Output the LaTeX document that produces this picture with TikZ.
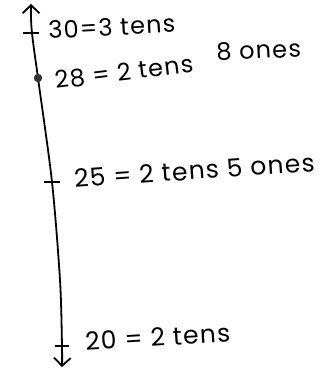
\documentclass[tikz,border=0pt]{standalone}
\usepackage{fontspec}
\setmainfont{Poppins}[LetterSpace=5]
\usetikzlibrary{arrows.meta}

\begin{document}
\begin{tikzpicture}[x=1pt,y=-1pt,line width=1.8pt,
  lbl/.style={anchor=base west,inner sep=0pt,font=\fontsize{24}{28}\selectfont},
  tickmark/.style={line width=1.5pt},
  barb/.style={{Straight Barb[length=8pt,width=17pt]}-{Straight Barb[length=8pt,width=17pt]}}]
  \useasboundingbox (0,0) rectangle (320,369);
  \coordinate (top) at (31,4);
  \coordinate (t30) at (32,33);
  \coordinate (d28) at (38,78);
  \coordinate (t25) at (52,182);
  \coordinate (mid) at (60,280);
  \coordinate (t20) at (62,346);
  \coordinate (bot) at (62,367);
  \draw[barb] plot[smooth] coordinates {(top) (t30) (d28) (t25) (mid) (t20) (bot)};
  \draw[tickmark] (t30) ++(-9,0) -- ++(16,0);
  \draw[tickmark] (t25) ++(-8,0) -- ++(16,0);
  \draw[tickmark] (t20) ++(-7,0) -- ++(14,0);
  \fill[black!80] (d28) circle (4.2);
  \node[lbl,rotate=3] (n30) at (48,39) {30=3 tens};
  \node[lbl,rotate=7] (n28) at (55,89) {28 = 2 tens};
  \node[lbl,rotate=3] (ones8) at (216,61) {8 ones};
  \node[lbl,rotate=4,font=\fontsize{25}{29}\selectfont] (n25) at (74,188) {25 = 2 tens 5 ones};
  \node[lbl,rotate=3.5,font=\fontsize{25}{29}\selectfont] (n20) at (85,351) {20 = 2 tens};
\end{tikzpicture}
\end{document}
